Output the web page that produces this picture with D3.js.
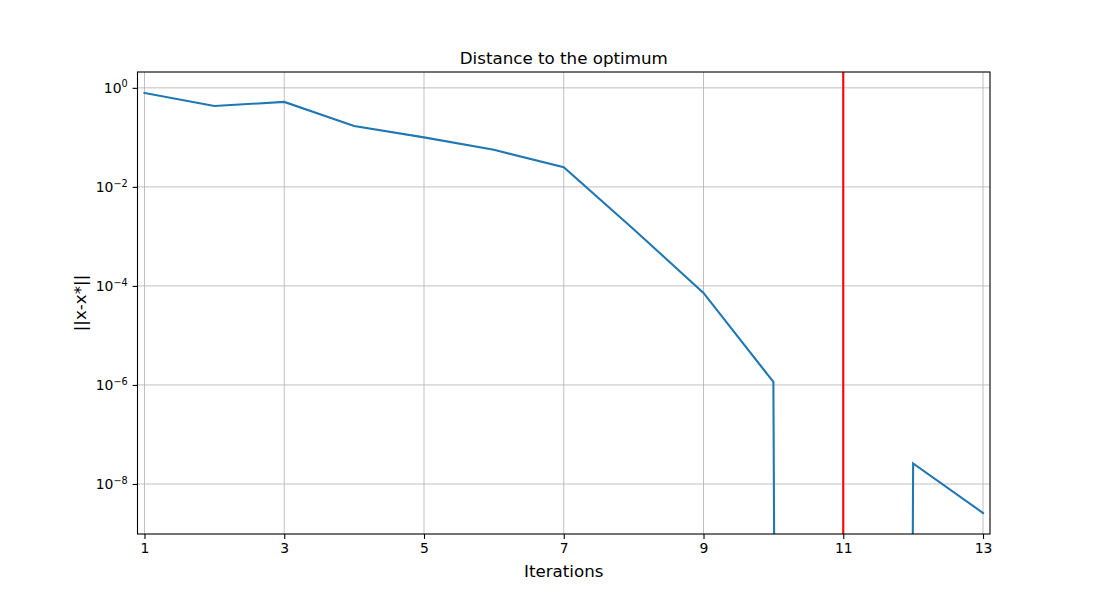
<!DOCTYPE html>
<html>
<head>
<meta charset="utf-8">
<script src="https://cdn.jsdelivr.net/npm/d3@7"></script>
<style>
  body { margin: 0; background: #fff; }
  text { font-family: "DejaVu Sans", sans-serif; }
</style>
</head>
<body>
<svg id="chart" width="1100" height="600"></svg>
<script>
// ---- data ----
const iterations = [1, 2, 3, 4, 5, 6, 7, 8, 9, 10, 11, 12, 13];
const distances = [0.79, 0.43, 0.52, 0.17, 0.10, 0.056, 0.025, 0.0014, 7.2e-5, 1.15e-6, 0, 2.6e-8, 2.6e-9];
const markerIteration = 11;
const xTicks = [1, 3, 5, 7, 9, 11, 13];
const yTickExps = [0, -2, -4, -6, -8];
const xDomain = [0.9, 13.1];
const yDomain = [Math.pow(10, -9.01), Math.pow(10, 0.32)];
const titleText = "Distance to the optimum";
const xLabelText = "Iterations";
const yLabelText = "||x-x*||";

// ---- layout ----
const svg = d3.select("#chart");
const L = 137.5, R = 990, T = 72, B = 534;

const x = d3.scaleLinear().domain(xDomain).range([L, R]);
const y = d3.scaleLog().domain(yDomain).range([B, T]);
const yPos = v => v > 0 ? y(v) : y(1e-300);

svg.append("rect").attr("x", 0).attr("y", 0).attr("width", 1100).attr("height", 600).attr("fill", "#fff");

svg.append("defs").append("clipPath").attr("id", "clip")
  .append("rect").attr("x", L).attr("y", T).attr("width", R - L).attr("height", B - T);

// grid
const grid = svg.append("g");
xTicks.forEach(t => {
  grid.append("line").attr("x1", x(t)).attr("x2", x(t)).attr("y1", T).attr("y2", B)
    .attr("stroke", "#b0b0b0").attr("stroke-width", 0.8);
});
yTickExps.forEach(e => {
  grid.append("line").attr("x1", L).attr("x2", R).attr("y1", y(Math.pow(10, e))).attr("y2", y(Math.pow(10, e)))
    .attr("stroke", "#b0b0b0").attr("stroke-width", 0.8);
});

// data line
const plot = svg.append("g").attr("clip-path", "url(#clip)");
const line = d3.line().x((d, i) => x(iterations[i])).y(d => yPos(d));
plot.append("path").datum(distances).attr("d", line)
  .attr("fill", "none").attr("stroke", "#1f77b4").attr("stroke-width", 2.08)
  .attr("stroke-linejoin", "miter").attr("stroke-linecap", "square");

// red vertical line
plot.append("line").attr("x1", x(markerIteration)).attr("x2", x(markerIteration)).attr("y1", T).attr("y2", B)
  .attr("stroke", "red").attr("stroke-width", 2.08);

// frame
svg.append("rect").attr("x", L).attr("y", T).attr("width", R - L).attr("height", B - T)
  .attr("fill", "none").attr("stroke", "#000").attr("stroke-width", 1.1);

// x axis
const xAxis = d3.axisBottom(x).tickValues(xTicks).tickSize(4.9).tickPadding(4.5).tickFormat(d3.format("d"));
const gx = svg.append("g").attr("transform", `translate(0,${B})`).call(xAxis);
gx.select(".domain").remove();
gx.selectAll(".tick line").attr("stroke", "#000").attr("stroke-width", 1.1);
gx.selectAll(".tick text").attr("font-size", 13.9).attr("fill", "#000").attr("font-family", "DejaVu Sans");

// y axis
const yAxis = d3.axisLeft(y).tickValues(yTickExps.map(e => Math.pow(10, e))).tickSize(4.9).tickFormat("");
const gy = svg.append("g").attr("transform", `translate(${L},0)`).call(yAxis);
gy.select(".domain").remove();
gy.selectAll(".tick line").attr("stroke", "#000").attr("stroke-width", 1.1);
gy.selectAll(".tick").each(function(d) {
  const e = Math.round(Math.log10(d));
  const t = d3.select(this).append("text")
    .attr("x", -9.8).attr("y", 0).attr("text-anchor", "end").attr("fill", "#000")
    .attr("font-size", 13.9).attr("font-family", "DejaVu Sans");
  t.append("tspan").attr("dy", "0.32em").text("10");
  t.append("tspan").attr("dy", "-0.55em").attr("font-size", 9.7)
    .text(e === 0 ? "0" : "\u2212" + Math.abs(e));
});

// title & labels
svg.append("text").attr("x", (L + R) / 2).attr("y", 64).attr("text-anchor", "middle")
  .attr("font-size", 16.7).attr("fill", "#000").text(titleText);
svg.append("text").attr("x", (L + R) / 2).attr("y", 577).attr("text-anchor", "middle")
  .attr("font-size", 16.7).attr("fill", "#000").text(xLabelText);
svg.append("text").attr("transform", `translate(86,${(T + B) / 2}) rotate(-90)`).attr("text-anchor", "middle")
  .attr("font-size", 16.7).attr("fill", "#000").text(yLabelText);
</script>
</body>
</html>
